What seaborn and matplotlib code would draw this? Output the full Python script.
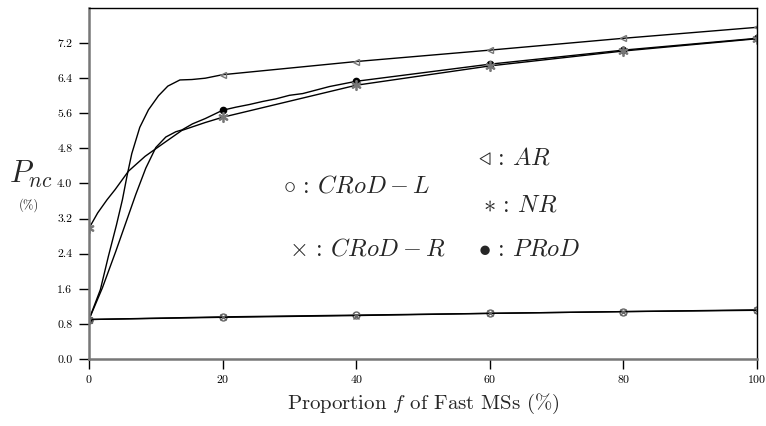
import numpy as np
import pandas as pd
import seaborn as sns
import matplotlib
matplotlib.use("Agg")
import matplotlib.pyplot as plt

####Values
ar_x = [0, 1.7, 2.9, 4.1, 5.0, 5.7, 6.4, 7.6, 8.9, 10.4, 11.8, 13.6, 15.4, 17.4, 20, 40, 60, 80, 100]
ar_y = [0.9, 1.58, 2.34, 3.05, 3.63, 4.18, 4.68, 5.28, 5.68, 6.0, 6.22, 6.36, 6.37, 6.40, 6.48, 6.78, 7.04, 7.31, 7.56]

prod_x = [0, 2, 4, 5.5, 7, 8.5, 10, 11.5, 13, 13.9, 15.5, 17.4, 20,
          22, 24, 26, 28, 30, 32, 34, 36, 38, 40, 60, 80, 100]
prod_y = [0.9, 1.62, 2.45, 3.1, 3.75, 4.35, 4.82, 5.06, 5.18, 5.22, 5.36, 5.48, 5.67,
          5.74, 5.80, 5.87, 5.93, 6.01, 6.05, 6.13, 6.21, 6.27, 6.33, 6.72, 7.04, 7.31]

nr_x = [0, 1.3, 2.7, 3.9, 5.9, 8.4, 10.9, 13.9, 17.4, 20, 40, 60, 80, 100]
nr_y = [2.98, 3.33, 3.63, 3.86, 4.28, 4.62, 4.89, 5.21, 5.39, 5.51, 6.24, 6.68, 7.02, 7.30]

crod_x = [0, 20, 40, 60, 80, 100]
crodl_y = [0.9, 0.96, 1.0, 1.04, 1.08, 1.12]
crodr_y = [0.9, 0.95, 0.99, 1.04, 1.08, 1.11]

mark_x = [0, 20, 40, 60, 80, 100]
yticks = [0.0, 0.8, 1.6, 2.4, 3.2, 4.0, 4.8, 5.6, 6.4, 7.2]

sns.set_style("white")
plt.rcParams['font.family'] = 'serif'
plt.rcParams['font.serif'] = ['cmr10', 'DejaVu Serif']
plt.rcParams['mathtext.fontset'] = 'cm'
plt.rcParams['axes.formatter.use_mathtext'] = True

fig = plt.figure(figsize=(7.66, 4.26), dpi=100)
ax = fig.add_axes([0.1162, 0.1573, 0.8721, 0.8239])

series = [
    (ar_x, ar_y, '<', 'none', '#777777', 5),
    (prod_x, prod_y, 'o', 'black', 'black', 4.5),
    (nr_x, nr_y, '$*$', '#777777', '#777777', 7),
    (crod_x, crodl_y, 'o', 'none', '#666666', 5),
    (crod_x, crodr_y, 'x', '#666666', '#666666', 5),
]
for xs, ys, mk, fc, ec, ms in series:
    df = pd.DataFrame({'x': xs, 'y': ys})
    sns.lineplot(data=df, x='x', y='y', ax=ax, color='black', lw=1.0,
                 sort=False, estimator=None)
    m = df[df['x'].isin(mark_x)]
    ax.plot(m['x'], m['y'], ls='none', marker=mk, mfc=fc, mec=ec, ms=ms, mew=1.0)

ax.set_xlim(0, 100)
ax.set_ylim(0, 8)
ax.set_xticks([0, 20, 40, 60, 80, 100])
ax.set_yticks(yticks)
ax.set_yticklabels([f"{v:.1f}" for v in yticks])
ax.tick_params(axis='both', direction='out', length=7, width=1, labelsize=8.5, colors='black')
ax.tick_params(axis='y', left=True, pad=5)
ax.tick_params(axis='x', bottom=True, pad=3)
for s in ['left', 'bottom']:
    ax.spines[s].set_color('#777777')
    ax.spines[s].set_linewidth(1.8)
for s in ['top', 'right']:
    ax.spines[s].set_color('black')
    ax.spines[s].set_linewidth(1.0)

ax.set_xlabel(r"Proportion $f$ of Fast MSs (%)", fontsize=15, labelpad=5)
ax.set_ylabel("")
fig.text(0.012, 0.59, r"$P_{nc}$", fontsize=22, ha='left', va='center')
fig.text(0.038, 0.518, "(%)", fontsize=9, ha='center', va='center')

kw = dict(fontsize=17.5, ha='left', va='center')
ax.text(29, 3.93, r"$\circ\,:\,CRoD-L$", **kw)
ax.text(30, 2.49, r"$\times\,:\,CRoD-R$", **kw)
ax.text(58.2, 4.56, r"$\triangleleft\,:\,AR$", **kw)
ax.text(59, 3.49, r"$\ast\,:\,NR$", **kw)
ax.text(58.2, 2.49, r"$\bullet\,:\,PRoD$", **kw)

fig.savefig("out.png", dpi=100)
